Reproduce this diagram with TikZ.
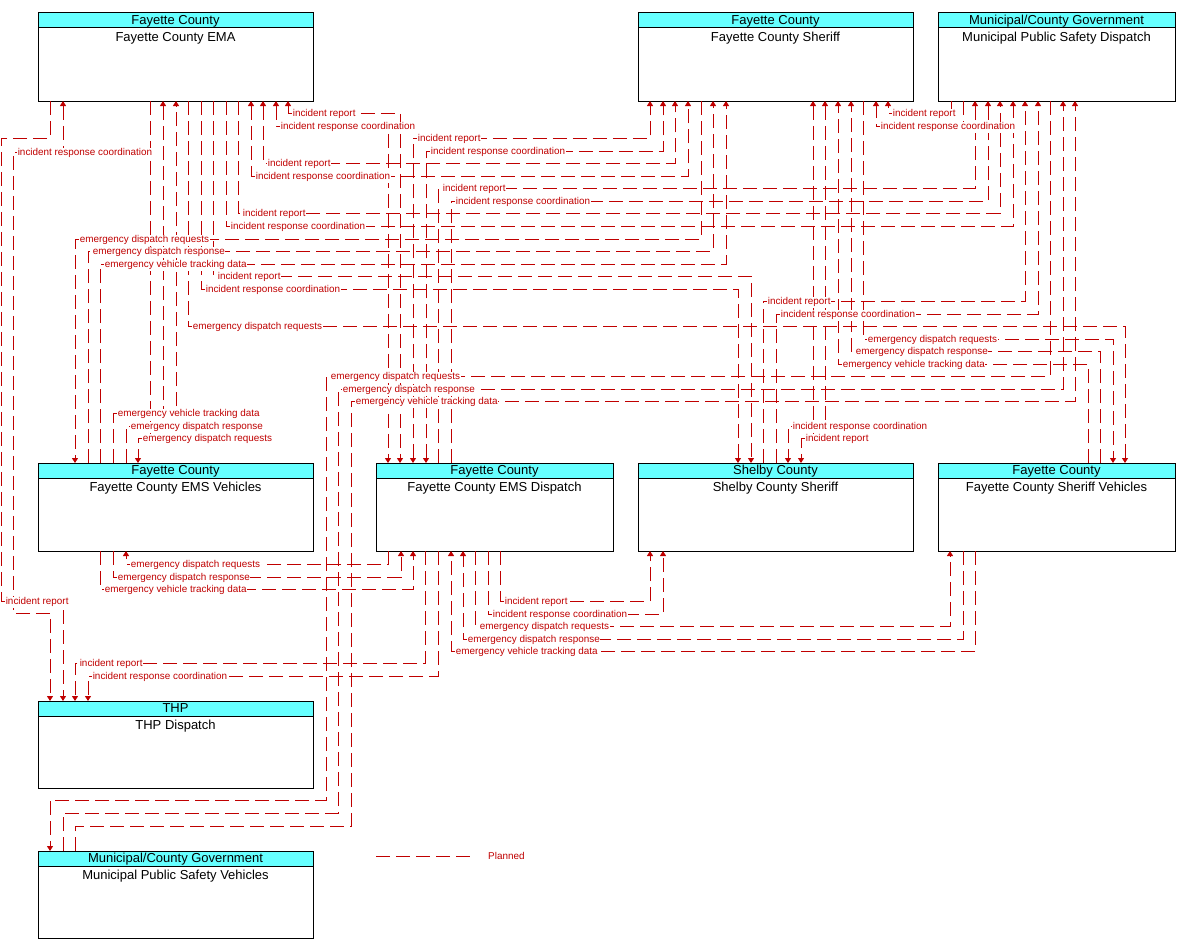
\documentclass[tikz,border=0pt]{standalone}
\usepackage{fontspec}
\setmainfont{Liberation Sans}
\usetikzlibrary{arrows.meta}
\definecolor{flowred}{RGB}{192,0,0}
\definecolor{hdrcyan}{RGB}{102,255,255}
\newcommand\sysbox[7]{%
  \node[sbox, minimum width=#4pt, minimum height=#5pt] (#1) at (#2,#3) {};
  \node[btext] (#1-h) at ([yshift=-8.5pt]#1.north) {#6};
  \node[btext] (#1-n) at ([yshift=-25pt]#1.north) {#7};
}
\newcommand\flab[4]{\node[lbl] (#1) at (#2,#3) {#4};}
\begin{document}
\begin{tikzpicture}[x=1pt,y=-1pt,
  fl/.style={draw=flowred, line width=1pt, dash pattern=on 14pt off 6pt},
  >={Triangle[length=5pt,width=6pt]},
  lbl/.style={anchor=west, fill=white, inner sep=0.6pt, text=flowred, yshift=-1.3pt,
    text height=6.8pt, text depth=2.4pt, font=\fontsize{9.9}{10}\selectfont},
  sbox/.style={draw=black, line width=1pt, anchor=north west, inner sep=0pt, outer sep=0pt,
    path picture={
      \fill[hdrcyan] (path picture bounding box.north west) rectangle ([yshift=-15pt]path picture bounding box.north east);
      \draw[line width=1pt] ([yshift=-15pt]path picture bounding box.north west) -- ([yshift=-15pt]path picture bounding box.north east);
    }},
  btext/.style={inner sep=0pt, text height=9.5pt, text depth=2.7pt, font=\fontsize{13}{14}\selectfont}]

\fill[white] (0,0) rectangle (1185,950);
\useasboundingbox (0,0) rectangle (1185,950);

% boxes
\sysbox{ema}{38}{13}{275}{88}{Fayette County}{Fayette County EMA}
\sysbox{sher}{638}{13}{275}{88}{Fayette County}{Fayette County Sheriff}
\sysbox{mpsd}{938}{13}{237}{88}{Municipal/County Government}{Municipal Public Safety Dispatch}
\sysbox{emsv}{38}{463}{275}{88}{Fayette County}{Fayette County EMS Vehicles}
\sysbox{emsd}{376}{463}{237}{88}{Fayette County}{Fayette County EMS Dispatch}
\sysbox{shel}{638}{463}{275}{88}{Shelby County}{Shelby County Sheriff}
\sysbox{sherv}{938}{463}{237}{88}{Fayette County}{Fayette County Sheriff Vehicles}
\sysbox{thp}{38}{701}{275}{87}{THP}{THP Dispatch}
\sysbox{mpsv}{38}{851}{275}{87}{Municipal/County Government}{Municipal Public Safety Vehicles}

% EMA - EMS Dispatch
\draw[fl,<->] (288,0 |- ema.south) -- (288,113) -- (400,113) -- (400,0 |- emsd.north);
\draw[fl,<->] (276,0 |- ema.south) -- (276,126) -- (388,126) -- (388,0 |- emsd.north);
% EMS Dispatch - Sheriff
\draw[fl,<->] (413,0 |- emsd.north) -- (413,138) -- (650,138) -- (650,0 |- sher.south);
\draw[fl,<->] (426,0 |- emsd.north) -- (426,151) -- (663,151) -- (663,0 |- sher.south);
% EMA - Sheriff
\draw[fl,<->] (263,0 |- ema.south) -- (263,163) -- (675,163) -- (675,0 |- sher.south);
\draw[fl,<->] (251,0 |- ema.south) -- (251,176) -- (688,176) -- (688,0 |- sher.south);
% EMS Dispatch -> MPSD
\draw[fl,->] (438,0 |- emsd.north) -- (438,188) -- (975,188) -- (975,0 |- mpsd.south);
\draw[fl,->] (451,0 |- emsd.north) -- (451,201) -- (988,201) -- (988,0 |- mpsd.south);
% EMA -> MPSD
\draw[fl,->] (238,0 |- ema.south) -- (238,213) -- (1000,213) -- (1000,0 |- mpsd.south);
\draw[fl,->] (226,0 |- ema.south) -- (226,226) -- (1013,226) -- (1013,0 |- mpsd.south);
% Sheriff - EMS Vehicles
\draw[fl,->] (701,0 |- sher.south) -- (701,239) -- (75,239) -- (75,0 |- emsv.north);
\draw[fl,->] (88,0 |- emsv.north) -- (88,251) -- (713,251) -- (713,0 |- sher.south);
\draw[fl,->] (100,0 |- emsv.north) -- (100,264) -- (726,264) -- (726,0 |- sher.south);
% EMA -> Shelby
\draw[fl,->] (213,0 |- ema.south) -- (213,276) -- (751,276) -- (751,0 |- shel.north);
\draw[fl,->] (201,0 |- ema.south) -- (201,289) -- (738,289) -- (738,0 |- shel.north);
% EMA -> Sheriff Vehicles
\draw[fl,->] (188,0 |- ema.south) -- (188,326) -- (1125,326) -- (1125,0 |- sherv.north);
% MPSD -> Sheriff
\draw[fl,->] (951,0 |- mpsd.south) -- (951,113) -- (888,113) -- (888,0 |- sher.south);
\draw[fl,->] (963,0 |- mpsd.south) -- (963,126) -- (876,126) -- (876,0 |- sher.south);
% Shelby -> MPSD
\draw[fl,->] (763,0 |- shel.north) -- (763,301) -- (1025,301) -- (1025,0 |- mpsd.south);
\draw[fl,->] (776,0 |- shel.north) -- (776,314) -- (1038,314) -- (1038,0 |- mpsd.south);
% Sheriff - Sheriff Vehicles
\draw[fl,->] (863,0 |- sher.south) -- (863,339) -- (1113,339) -- (1113,0 |- sherv.north);
\draw[fl,->] (1100,0 |- sherv.north) -- (1100,351) -- (851,351) -- (851,0 |- sher.south);
\draw[fl,->] (1088,0 |- sherv.north) -- (1088,364) -- (838,364) -- (838,0 |- sher.south);
% MPSD - MPSV
\draw[fl,->] (1050,0 |- mpsd.south) -- (1050,376) -- (326,376) -- (326,800) -- (50,800) -- (50,0 |- mpsv.north);
\draw[fl,->] (63,0 |- mpsv.north) -- (63,813) -- (338,813) -- (338,389) -- (1063,389) -- (1063,0 |- mpsd.south);
\draw[fl,->] (75,0 |- mpsv.north) -- (75,826) -- (351,826) -- (351,401) -- (1075,401) -- (1075,0 |- mpsd.south);
% Sheriff - Shelby
\draw[fl,<->] (825,0 |- sher.south) -- (825,426) -- (788,426) -- (788,0 |- shel.north);
\draw[fl,<->] (813,0 |- sher.south) -- (813,438) -- (801,438) -- (801,0 |- shel.north);
% EMS Vehicles - EMA
\draw[fl,->] (113,0 |- emsv.north) -- (113,413) -- (176,413) -- (176,0 |- ema.south);
\draw[fl,->] (126,0 |- emsv.north) -- (126,426) -- (163,426) -- (163,0 |- ema.south);
\draw[fl,->] (150,0 |- ema.south) -- (150,438) -- (138,438) -- (138,0 |- emsv.north);
% EMS Dispatch - EMS Vehicles
\draw[fl,->] (388,0 |- emsd.south) -- (388,564) -- (126,564) -- (126,0 |- emsv.south);
\draw[fl,->] (113,0 |- emsv.south) -- (113,577) -- (401,577) -- (401,0 |- emsd.south);
\draw[fl,->] (100,0 |- emsv.south) -- (100,589) -- (413,589) -- (413,0 |- emsd.south);
% EMS Dispatch -> Shelby
\draw[fl,->] (500,0 |- emsd.south) -- (500,601) -- (650,601) -- (650,0 |- shel.south);
\draw[fl,->] (488,0 |- emsd.south) -- (488,614) -- (663,614) -- (663,0 |- shel.south);
% EMS Dispatch - Sheriff Vehicles
\draw[fl,->] (475,0 |- emsd.south) -- (475,626) -- (950,626) -- (950,0 |- sherv.south);
\draw[fl,->] (963,0 |- sherv.south) -- (963,639) -- (463,639) -- (463,0 |- emsd.south);
\draw[fl,->] (975,0 |- sherv.south) -- (975,651) -- (451,651) -- (451,0 |- emsd.south);
% EMS Dispatch -> THP
\draw[fl,->] (425,0 |- emsd.south) -- (425,663) -- (75,663) -- (75,0 |- thp.north);
\draw[fl,->] (438,0 |- emsd.south) -- (438,676) -- (88,676) -- (88,0 |- thp.north);
% EMA - THP
\draw[fl,->] (50,0 |- ema.south) -- (50,138) -- (1,138) -- (1,601) -- (63,601) -- (63,0 |- thp.north);
\draw[fl,<->] (63,0 |- ema.south) -- (63,152) -- (13,152) -- (13,613) -- (50,613) -- (50,0 |- thp.north);

% labels
\flab{t1}{292}{113}{incident report}
\flab{t2}{280}{126}{incident response coordination}
\flab{t3}{417}{138}{incident report}
\flab{t4}{430}{151}{incident response coordination}
\flab{t5}{267}{163}{incident report}
\flab{t6}{255}{176}{incident response coordination}
\flab{t7}{442}{188}{incident report}
\flab{t8}{455}{201}{incident response coordination}
\flab{t9}{242}{213}{incident report}
\flab{t10}{230}{226}{incident response coordination}
\flab{t11}{79}{239}{emergency dispatch requests}
\flab{t12}{92}{251}{emergency dispatch response}
\flab{t13}{104}{264}{emergency vehicle tracking data}
\flab{t14}{217}{276}{incident report}
\flab{t15}{205}{289}{incident response coordination}
\flab{t16}{192}{326}{emergency dispatch requests}
\flab{t17}{892}{113}{incident report}
\flab{t18}{880}{126}{incident response coordination}
\flab{t19}{767}{301}{incident report}
\flab{t20}{780}{314}{incident response coordination}
\flab{t21}{867}{339}{emergency dispatch requests}
\flab{t22}{855}{351}{emergency dispatch response}
\flab{t23}{842}{364}{emergency vehicle tracking data}
\flab{t24}{330}{376}{emergency dispatch requests}
\flab{t25}{342}{389}{emergency dispatch response}
\flab{t26}{355}{401}{emergency vehicle tracking data}
\flab{t27}{792}{426}{incident response coordination}
\flab{t28}{805}{438}{incident report}
\flab{t29}{117}{413}{emergency vehicle tracking data}
\flab{t30}{130}{426}{emergency dispatch response}
\flab{t31}{142}{438}{emergency dispatch requests}
\flab{t32}{130}{564}{emergency dispatch requests}
\flab{t33}{117}{577}{emergency dispatch response}
\flab{t34}{104}{589}{emergency vehicle tracking data}
\flab{t35}{504}{601}{incident report}
\flab{t36}{492}{614}{incident response coordination}
\flab{t37}{479}{626}{emergency dispatch requests}
\flab{t38}{467}{639}{emergency dispatch response}
\flab{t39}{455}{651}{emergency vehicle tracking data}
\flab{t40}{79}{663}{incident report}
\flab{t41}{92}{676}{incident response coordination}
\flab{t42}{5}{601}{incident report}
\flab{t43}{17}{152}{incident response coordination}

% legend
\coordinate (lga) at (376,856);
\coordinate (lgb) at (476,856);
\draw[fl] (lga) -- (lgb);
\node[anchor=west, inner sep=0pt, text=flowred, font=\fontsize{9.9}{10}\selectfont] (lgt) at (488,856) {Planned};
\end{tikzpicture}
\end{document}
